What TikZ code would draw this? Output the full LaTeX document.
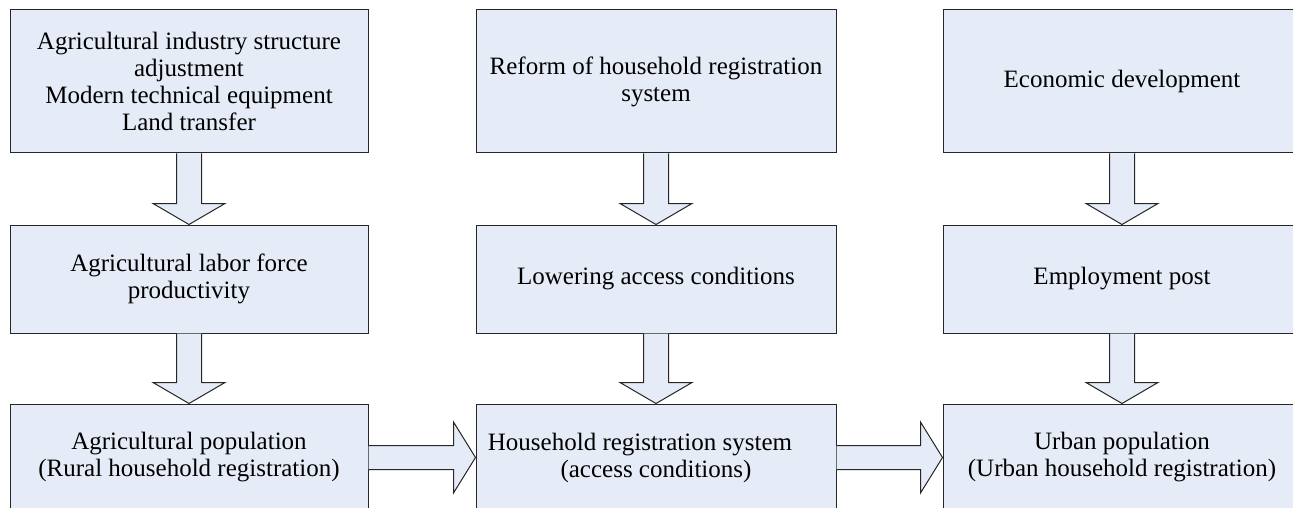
\documentclass[tikz,border=0pt]{standalone}
\usepackage{fontspec}
\setmainfont{Liberation Serif}
\usetikzlibrary{calc}

\definecolor{boxfill}{RGB}{230,236,247}

\tikzset{
  box/.style={draw=black!85, line width=1pt, fill=boxfill, minimum width=358pt,
    inner sep=0pt, align=center, font=\fontsize{25}{27}\selectfont},
  blk/.style={draw=black!85, line width=1pt, fill=boxfill, line join=miter},
}

% block arrow downwards, from #1 to #2
\newcommand{\downblk}[2]{%
  \filldraw[blk] ($(#1.south)+(-12.5,0)$) -- ($(#2.north)+(-12.5,-21)$) -- ($(#2.north)+(-36,-21)$)
    -- (#2.north) -- ($(#2.north)+(36,-21)$) -- ($(#2.north)+(12.5,-21)$) -- ($(#1.south)+(12.5,0)$);}
% block arrow to the right, from #1 to #2
\newcommand{\rightblk}[2]{%
  \filldraw[blk] ($(#1.east)+(0,-12)$) -- ($(#2.west)+(-22,-12)$) -- ($(#2.west)+(-22,-35.5)$)
    -- (#2.west) -- ($(#2.west)+(-22,35.5)$) -- ($(#2.west)+(-22,12)$) -- ($(#1.east)+(0,12)$);}

\begin{document}
\begin{tikzpicture}[x=1pt,y=-1pt]
    \clip (0,0) rectangle (1293,508);
    \fill[white] (0,0) rectangle (1293,508);

    \node[box, minimum height=143pt] (struct) at (189,81.5) {Agricultural industry structure\\adjustment\\Modern technical equipment\\Land transfer};
    \node[box, minimum height=143pt, minimum width=360pt] (reform) at (656,81.5) {Reform of household registration\\system};
    \node[box, minimum height=143pt] (economy) at (1122,81.5) {Economic development};

    \node[box, minimum height=108pt] (labor) at (189,279) {Agricultural labor force\\productivity};
    \node[box, minimum height=108pt, minimum width=360pt] (lowering) at (656,279) {Lowering access conditions};
    \node[box, minimum height=108pt] (employ) at (1122,279) {Employment post};

    \node[box, minimum height=107pt] (ruralpop) at (189,457.5) {Agricultural population\\(Rural household registration)};
    \node[box, minimum height=107pt, minimum width=360pt] (hukou) at (656,457.5) {Household registration system\hspace*{32pt}\\(access conditions)};
    \node[box, minimum height=107pt] (urbanpop) at (1122,457.5) {Urban population\\(Urban household registration)};

    \downblk{struct}{labor}
    \downblk{labor}{ruralpop}
    \downblk{reform}{lowering}
    \downblk{lowering}{hukou}
    \downblk{economy}{employ}
    \downblk{employ}{urbanpop}

    \rightblk{ruralpop}{hukou}
    \rightblk{hukou}{urbanpop}

\end{tikzpicture}
\end{document}
